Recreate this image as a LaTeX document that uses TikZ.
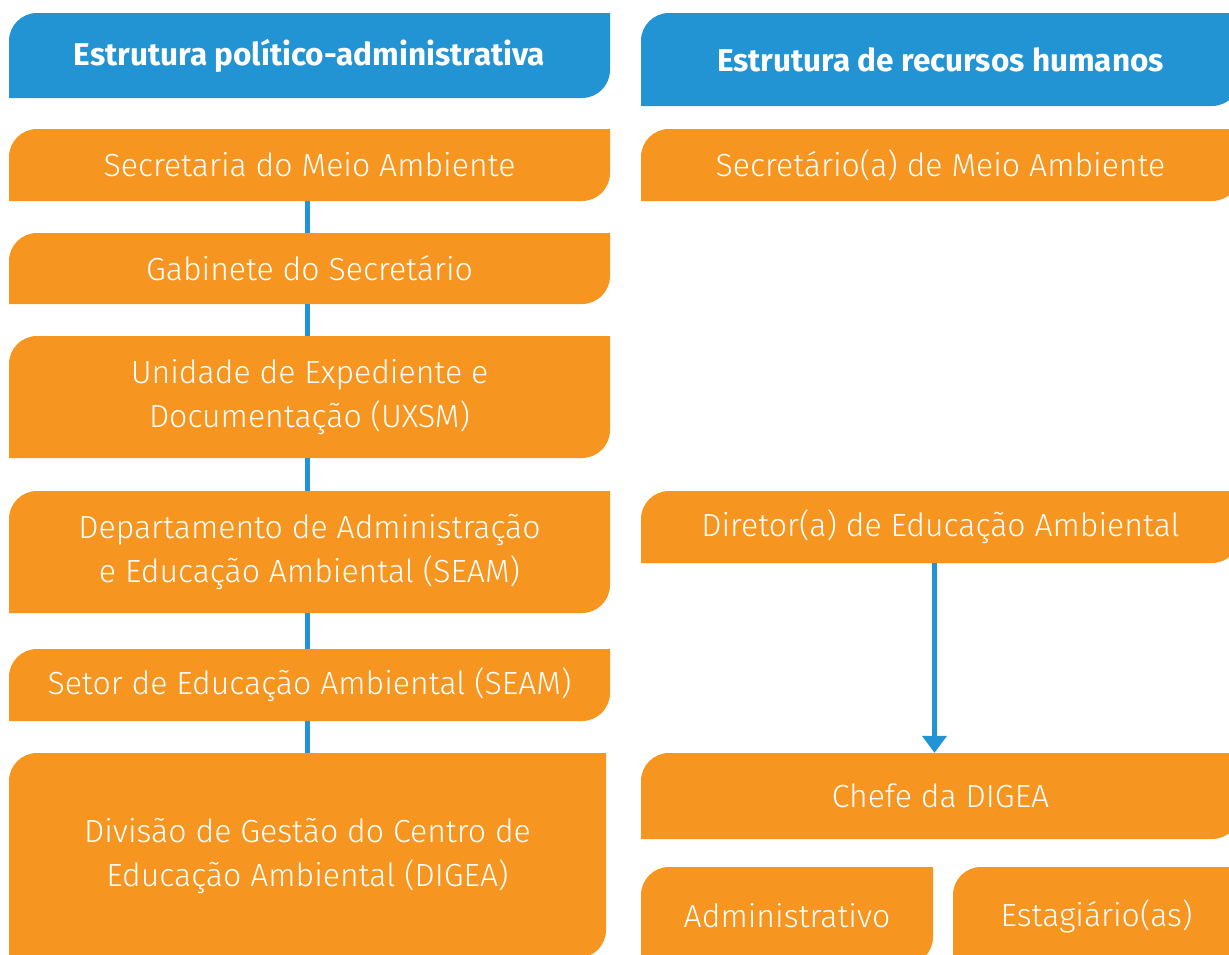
\documentclass[tikz,border=0pt]{standalone}
\usepackage{fontspec}
\setmainfont{Fira Sans}[UprightFont=* Light, BoldFont=* Bold]
\usetikzlibrary{arrows.meta}
\definecolor{headblue}{HTML}{2394D3}
\definecolor{boxorange}{HTML}{F6951F}
\tikzset{
  orgbox/.style={inner sep=0pt, text=white, align=center,
    font=\fontsize{32}{44}\selectfont,
    path picture={\fill[#1] (path picture bounding box.south west)
      -- ([yshift=-28pt]path picture bounding box.north west)
      arc[start angle=180,end angle=90,radius=28pt]
      -- (path picture bounding box.north east)
      -- ([yshift=28pt]path picture bounding box.south east)
      arc[start angle=0,end angle=-90,radius=28pt] -- cycle;}},
  headbox/.style={orgbox=headblue, font=\fontsize{31.5}{38}\selectfont\bfseries},
  leftcol/.style={minimum width=601pt},
  rightcol/.style={minimum width=599pt},
  link/.style={headblue, line width=5pt},
}
\begin{document}
\begin{tikzpicture}[x=1pt,y=1pt]
  \clip (0,0) rectangle (1229,-954);
  % cabecalhos
  \node[headbox,leftcol,minimum height=85pt] (hpol) at (309.5,-55.5) {Estrutura político-administrativa};
  \node[headbox,rightcol,minimum height=93pt] (hrh) at (940.5,-59.5) {Estrutura de recursos humanos};
%%% estrutura politico-administrativa
  \node[orgbox=boxorange,leftcol,minimum height=72pt]  (sec)   at (309.5,-165)   {Secretaria do Meio Ambiente};
  \node[orgbox=boxorange,leftcol,minimum height=71pt]  (gab)   at (309.5,-268.5) {Gabinete do Secretário};
  \node[orgbox=boxorange,leftcol,minimum height=122pt] (uxsm)  at (309.5,-397)   {Unidade de Expediente e\\Documentação (UXSM)};
  \node[orgbox=boxorange,leftcol,minimum height=122pt] (dep)   at (309.5,-552)   {Departamento de Administração\\e Educação Ambiental (SEAM)};
  \node[orgbox=boxorange,leftcol,minimum height=72pt]  (setor) at (309.5,-685)   {Setor de Educação Ambiental (SEAM)};
  \node[orgbox=boxorange,minimum width=597pt,minimum height=205pt] (digea) at (307.5,-855.5) {Divisão de Gestão do Centro de\\Educação Ambiental (DIGEA)};
  \draw[link] ([xshift=-2pt]sec.south) -- ([xshift=-2pt]sec.south |- gab.north);
  \draw[link] ([xshift=-2pt]gab.south) -- ([xshift=-2pt]gab.south |- uxsm.north);
  \draw[link] ([xshift=-2pt]uxsm.south) -- ([xshift=-2pt]uxsm.south |- dep.north);
  \draw[link] ([xshift=-2pt]dep.south) -- ([xshift=-2pt]dep.south |- setor.north);
  \draw[link] ([xshift=-2pt]setor.south) -- ([xshift=-2pt]setor.south |- digea.north);
%%% recursos humanos
  \node[orgbox=boxorange,rightcol,minimum height=72pt] (secr)  at (940.5,-165) {Secretário(a) de Meio Ambiente};
  \node[orgbox=boxorange,rightcol,minimum height=72pt] (dir)   at (940.5,-527) {Diretor(a) de Educação Ambiental};
  \node[orgbox=boxorange,rightcol,minimum height=86pt] (chefe) at (940.5,-796) {Chefe da DIGEA};
  \node[orgbox=boxorange,minimum width=292pt,minimum height=98pt] (adm) at (787,-916)    {Administrativo};
  \node[orgbox=boxorange,minimum width=287pt,minimum height=98pt] (est) at (1096.5,-916) {Estagiário(as)};
  \draw[link,-{Triangle[width=24pt,length=17pt]}] ([xshift=-6pt]dir.south) -- ([xshift=-6pt]chefe.north);
\end{tikzpicture}
\end{document}
